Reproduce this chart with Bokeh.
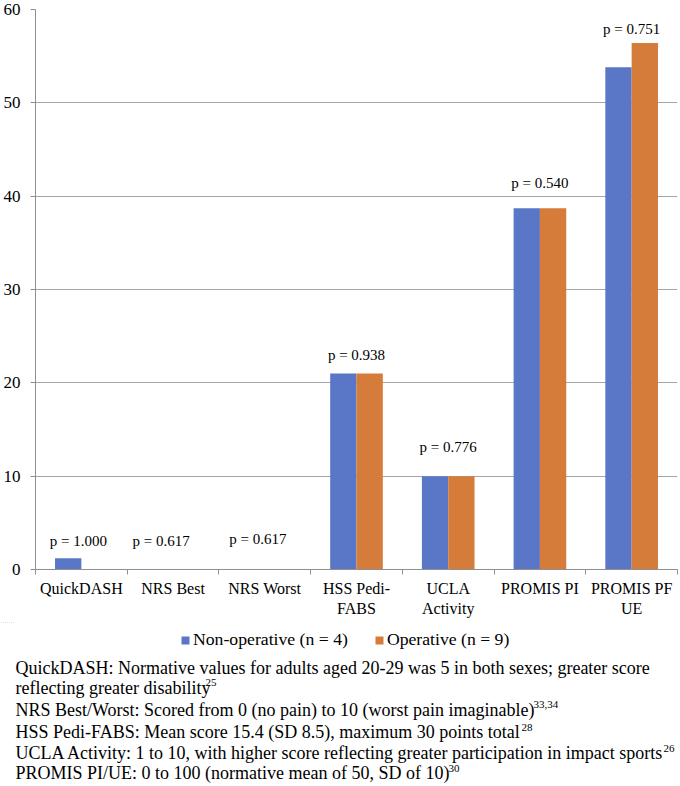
from bokeh.plotting import figure
from bokeh.layouts import column
from bokeh.models import (ColumnDataSource, Range1d, LinearAxis,
                          FixedTicker, Legend, LegendItem)
from bokeh.transform import dodge
from bokeh.core.properties import value
from bokeh.embed import file_html
from bokeh.resources import INLINE

# ---------------- data ----------------
categories = ["QuickDASH", "NRS Best", "NRS Worst", "HSS Pedi-FABS",
              "UCLA Activity", "PROMIS PI", "PROMIS PF UE"]
tick_labels = ["QuickDASH", "NRS Best", "NRS Worst", "HSS Pedi-\nFABS",
               "UCLA\nActivity", "PROMIS PI", "PROMIS PF\nUE"]
non_operative = [1.2, 0.0, 0.0, 21.0, 10.0, 38.7, 53.8]
operative = [0.0, 0.0, 0.0, 21.0, 10.0, 38.7, 56.4]
p_values = ["p = 1.000", "p = 0.617", "p = 0.617", "p = 0.938",
            "p = 0.776", "p = 0.540", "p = 0.751"]
y_ticks = [0, 10, 20, 30, 40, 50, 60]
series_names = ["Non-operative (n = 4)", "Operative (n = 9)"]

footnote_lines = [
    "QuickDASH: Normative values for adults aged 20-29 was 5 in both sexes; greater score",
    "reflecting greater disability",
    "NRS Best/Worst: Scored from 0 (no pain) to 10 (worst pain imaginable)",
    "HSS Pedi-FABS: Mean score 15.4 (SD 8.5), maximum 30 points total",
    "UCLA Activity: 1 to 10, with higher score reflecting greater participation in impact sports",
    "PROMIS PI/UE: 0 to 100 (normative mean of 50, SD of 10)",
]
footnote_refs = ["", "25", "33,34", "28", "26", "30"]

# ---------------- style / layout (pixels) ----------------
label_gap_px = [17, 29, 31, 19, 29, 25, 14]
label_dx_px = [-3, -12, -7, 0, 0, 0, 0]
foot_y_px = [667, 687, 709, 731.5, 752.5, 772.5]
ref_x_px = [0, 205, 533, 521, 663, 448]

BLUE = "#5a77c7"
ORANGE = "#d57c3a"
GRID = "#a6a6a6"
AXIS = "#8f8f8f"
FONT = "Liberation Serif"

W = 680
H1 = 622          # chart figure height
H2 = 786 - H1     # notes figure height
FRAME_L, FRAME_T, FRAME_B = 35, 9, 569

# each category occupies two x units: centres at odd integers, borders at even
n = len(categories)
centres = [2 * i + 1 for i in range(n)]
borders = [2 * i for i in range(n + 1)]
BAR_W = 0.574

src = ColumnDataSource(dict(
    x=centres,
    cat=categories,
    non=non_operative,
    op=operative,
    top=[max(a, b) for a, b in zip(non_operative, operative)],
    plabel=p_values,
    dx=label_dx_px,
    dy=[-g for g in label_gap_px],
))

p = figure(x_range=Range1d(0, 2 * n), y_range=Range1d(0, 60),
           width=W, height=H1, output_backend="svg", toolbar_location=None,
           min_border_left=FRAME_L, min_border_right=3, min_border_top=FRAME_T,
           min_border_bottom=H1 - FRAME_B)
p.outline_line_color = None
p.frame_align = False

r1 = p.vbar(x=dodge("x", -BAR_W / 2), top="non", width=BAR_W,
            source=src, fill_color=BLUE, line_color=None)
r2 = p.vbar(x=dodge("x", BAR_W / 2), top="op", width=BAR_W,
            source=src, fill_color=ORANGE, line_color=None)

p.text(x="x", y="top", text="plabel",
       x_offset="dx", y_offset="dy", source=src,
       text_align="center", text_baseline="middle",
       text_font=value(FONT), text_font_size="15px", text_color="black")

# y axis & grid
yax = p.yaxis[0]
yax.ticker = FixedTicker(ticks=y_ticks)
yax.axis_line_color = AXIS
yax.major_tick_line_color = AXIS
yax.major_tick_out = 5
yax.major_tick_in = 0
yax.minor_tick_line_color = None
yax.major_label_text_font = FONT
yax.major_label_text_font_size = "17px"
yax.major_label_text_color = "black"
yax.major_label_standoff = 10
p.ygrid.ticker = FixedTicker(ticks=y_ticks)
p.ygrid.grid_line_color = GRID
p.xgrid.grid_line_color = None

# x axis: category border ticks (main axis) + category labels (second axis)
tick_ax = p.xaxis[0]
tick_ax.ticker = FixedTicker(ticks=borders)
tick_ax.major_tick_out = 5
tick_ax.major_tick_in = 0
tick_ax.minor_tick_line_color = None
tick_ax.major_label_text_color = None
tick_ax.major_label_text_font_size = "1px"
tick_ax.major_label_standoff = 0
tick_ax.axis_line_color = AXIS
tick_ax.major_tick_line_color = AXIS

cat_ax = LinearAxis(ticker=FixedTicker(ticks=centres),
                    major_label_overrides={c: t for c, t in zip(centres, tick_labels)},
                    axis_line_color=None, major_tick_line_color=None,
                    minor_tick_line_color=None, major_tick_out=0, major_tick_in=0,
                    major_label_text_font=FONT, major_label_text_font_size="16px",
                    major_label_text_color="black", major_label_standoff=5)
p.add_layout(cat_ax, "below")

# ---------------- legend + notes figure (page-pixel coordinates) ----------------
q = figure(x_range=Range1d(0, W), y_range=Range1d(786, H1),
           width=W, height=H2, output_backend="svg", toolbar_location=None,
           x_axis_location=None, y_axis_location=None,
           min_border=0, min_border_left=0, min_border_right=0,
           min_border_top=0, min_border_bottom=0)
q.grid.visible = False
q.outline_line_color = None
q.frame_align = False

# legend proxies: the same series, drawn outside this panel's visible range
l1 = q.vbar(x="x", top="non", width=BAR_W, source=src,
            fill_color=BLUE, line_color=None)
l2 = q.vbar(x="x", top="op", width=BAR_W, source=src,
            fill_color=ORANGE, line_color=None)
legend = Legend(items=[LegendItem(label=series_names[0], renderers=[l1]),
                       LegendItem(label=series_names[1], renderers=[l2])],
                orientation="horizontal", location=(180, 786 - 650),
                padding=0, margin=0, spacing=26, glyph_width=10, glyph_height=10,
                label_standoff=3, border_line_color=None,
                background_fill_alpha=0,
                label_text_font=FONT, label_text_font_size="17.7px",
                label_text_color="black")
q.add_layout(legend)

notes = ColumnDataSource(dict(x=[15] * len(footnote_lines), y=foot_y_px,
                              t=footnote_lines))
q.text(x="x", y="y", text="t", source=notes, text_align="left",
       text_baseline="middle", text_font=value(FONT), text_font_size="18px",
       text_color="black")
refs = ColumnDataSource(dict(x=[x for x, r in zip(ref_x_px, footnote_refs) if r],
                             y=[y - 5 for y, r in zip(foot_y_px, footnote_refs) if r],
                             t=[r for r in footnote_refs if r]))
q.text(x="x", y="y", text="t", source=refs, text_align="left",
       text_baseline="middle", text_font=value(FONT), text_font_size="11px",
       text_color="black")

layout = column(p, q, spacing=0)
open("out.html", "w").write(file_html(layout, INLINE))
